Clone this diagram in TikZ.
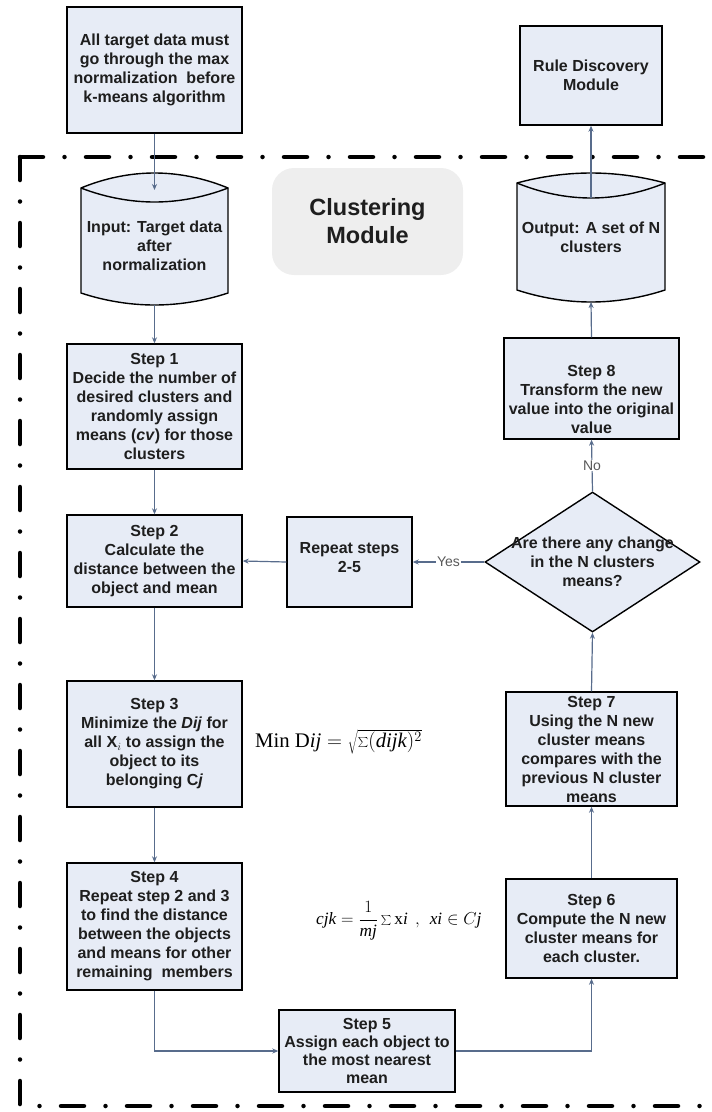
\documentclass[tikz,border=0pt]{standalone}
\usepackage{fontspec}
\setmainfont{Liberation Serif}
\newfontfamily\diagfont{Liberation Sans}
\usetikzlibrary{arrows.meta,shapes.geometric}
\definecolor{boxfill}{RGB}{231,236,246}
\definecolor{flowline}{RGB}{88,108,140}
\definecolor{modfill}{RGB}{238,238,238}
\definecolor{inktext}{RGB}{30,30,30}

\begin{document}
\begin{tikzpicture}[x=1pt,y=-1pt,
  boxtext/.style={font=\diagfont\bfseries\fontsize{16}{19}\selectfont, text=inktext, align=center},
  box/.style={boxtext, draw=black, line width=1.4pt, fill=boxfill, inner sep=0pt},
  cyl/.style={draw=black, line width=1.4pt, fill=boxfill},
  flow/.style={draw=flowline, line width=1.2pt, -{Stealth[length=6pt,width=5pt]}},
  tag/.style={font=\diagfont\fontsize{14}{14}\selectfont, text=black!65, fill=white, inner sep=1pt},
  frame/.style={line width=4.5pt, line cap=round, dash pattern=on 23pt off 21.5pt on 0pt off 21.5pt},
]
\useasboundingbox (0,0) rectangle (712,1112);

% module frame (dash-dot border, open on the right)
\draw[frame] (20,157) -- (712,157);
\draw[frame] (20,157) -- (20,1106) -- (712,1106);

% module title
\node[fill=modfill, rounded corners=22pt, minimum width=191pt, minimum height=107pt,
      font=\diagfont\bfseries\fontsize{23.5}{28}\selectfont, text=inktext, align=center]
      (mod) at (367.5,221.5) {Clustering\\Module};

% pre-processing and rule discovery
\node[box, minimum width=175pt, minimum height=126pt] (pre) at (154.5,70)
  {All target data must\\go through the max\\normalization\ \ before\\k-means algorithm};
\node[box, minimum width=142pt, minimum height=99pt] (rule) at (591,75.5)
  {Rule Discovery\\Module};

% input data store
\path[cyl] (81,188) parabola bend (154.5,173) (228,188) -- (228,293)
  parabola bend (154.5,305) (81,293) -- cycle;
\draw[line width=1.4pt] (81,188) parabola bend (154.5,202) (228,188);
\node[boxtext] (input) at (154.5,246) {Input: Target data\\after\\normalization};
\coordinate (inTop) at (154.5,190);
\coordinate (inBot) at (154.5,305);

% output data store
\path[cyl] (517,183) parabola bend (591,173) (665,183) -- (665,290)
  parabola bend (591,302) (517,290) -- cycle;
\draw[line width=1.4pt] (517,183) parabola bend (591,198) (665,183);
\node[boxtext] (output) at (591,237) {Output: A set of N\\clusters};
\coordinate (outTop) at (591,198);
\coordinate (outBot) at (591,302);

% left column
\node[box, minimum width=175pt, minimum height=125pt] (s1) at (154.5,406.5)
  {Step 1\\Decide the number of\\desired clusters and\\randomly assign\\means (\textit{cv}) for those\\clusters};
\node[box, minimum width=175pt, minimum height=92pt] (s2) at (154.5,561)
  {Step 2\\Calculate the\\distance between the\\object and mean};
\node[box, minimum width=175pt, minimum height=126pt] (s3) at (154.5,744)
  {Step 3\\Minimize the \textit{Dij} for\\all X$_i$ to assign the\\object to its\\belonging C\textit{j}};
\node[box, minimum width=175pt, minimum height=127pt] (s4) at (154.5,926.5)
  {Step 4\\Repeat step 2 and 3\\to find the distance\\between the objects\\and means for other\\remaining\ \ members};

% bottom and right column
\node[box, minimum width=176pt, minimum height=82pt, font=\diagfont\bfseries\fontsize{16}{18}\selectfont] (s5) at (367,1051)
  {Step 5\\Assign each object to\\the most nearest\\mean};
\node[box, minimum width=171pt, minimum height=99pt] (s6) at (591.5,928.5)
  {Step 6\\Compute the N new\\cluster means for\\each cluster.};
\node[box, minimum width=171pt, minimum height=114pt] (s7) at (591.5,749)
  {Step 7\\Using the N new\\cluster means\\compares with the\\previous N cluster\\means};
\node[box, minimum width=175pt, minimum height=101pt] (s8) at (591.5,388.5) {};
\node[boxtext] (s8text) at (591.5,399)
  {Step 8\\Transform the new\\value into the original\\value};

% decision and loop-back
\node[diamond, aspect=1.536, draw=black, line width=1.4pt, fill=boxfill, inner sep=0pt,
      minimum width=215pt, minimum height=140pt] (dec) at (592.5,562) {};
\node[boxtext] (dectext) at (592.5,562) {Are there any change\\in the N clusters\\means?};
\node[box, minimum width=125pt, minimum height=90pt] (rep) at (349.5,562) {};
\node[boxtext] (reptext) at (349.5,558) {Repeat steps\\2-5};

% formulas
\node[anchor=west, inner sep=0pt, font=\huge] (fmin) at (255,742)
  {$\mathrm{Min\ D}\mathit{ij} = \sqrt{\sum(\mathit{dijk})^2}$};
\node[anchor=west, inner sep=0pt, font=\LARGE] (fmean) at (316,921)
  {$\mathit{cjk} = {\displaystyle\frac{1}{\mathit{mj}}}\sum \mathrm{x}\mathit{i}\ \,,\ \,\mathit{xi}\in C\mathit{j}$};

% connectors
\draw[flow] (pre.south) -- (inTop);
\draw[flow] (inBot) -- (s1.north);
\draw[flow] (s1.south) -- (s2.north);
\draw[flow] (s2.south) -- (s3.north);
\draw[flow] (s3.south) -- (s4.north);
\draw[flow] (s4.south) |- (s5.west);
\draw[flow] (s5.east) -| (s6.south);
\draw[flow] (s6.north) -- (s7.south);
\draw[flow] (s7.north) -- (dec.south);
\draw[flow] (dec.north) -- node[tag] {No} (s8.south);
\draw[flow] (dec.west) -- node[tag] {Yes} (rep.east);
\draw[flow] (rep.west) -- (s2.east);
\draw[flow] (s8.north) -- (outBot);
\draw[flow] (outTop) -- (rule.south);
\end{tikzpicture}
\end{document}
